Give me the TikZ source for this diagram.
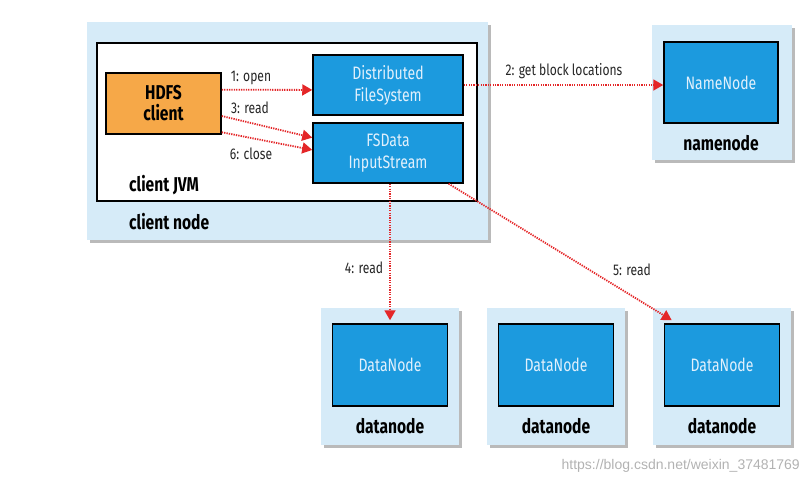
\documentclass[tikz,border=0pt]{standalone}
\usepackage{fontspec}
\setmainfont{Fira Sans}[FakeStretch=0.78]
\newfontfamily\wmfont{Liberation Sans}
\usetikzlibrary{shadows,arrows.meta,calc}
\definecolor{hostblue}{RGB}{214,235,248}
\definecolor{boxblue}{RGB}{28,154,222}
\definecolor{boxtext}{RGB}{225,240,252}
\definecolor{hdfsorange}{RGB}{246,168,72}
\definecolor{arrowred}{RGB}{228,38,40}
\begin{document}
\begin{tikzpicture}[x=1pt,y=-1pt,
  host/.style={fill=hostblue, draw=none, minimum width=#1, inner sep=0pt,
    drop shadow={shadow xshift=2.5pt, shadow yshift=-2.5pt, fill=black!45, opacity=0.6}},
  inbox/.style={fill=boxblue, draw=black, line width=1.5pt, text=boxtext,
    align=center, inner sep=0pt, font=\fontsize{18}{22}\selectfont},
  hostlabel/.style={font=\bfseries\fontsize{20}{23}\selectfont, inner sep=0pt},
  arrlabel/.style={font=\fontsize{15.5}{17}\selectfont, inner sep=0pt, text=black!85},
  flow/.style={draw=arrowred, line width=1.8pt, dash pattern=on 1.3pt off 1.1pt,
    -{Triangle[length=10pt,width=11pt]}}
]
\useasboundingbox (0,0) rectangle (809,483);

% client node
\node[host, minimum width=401pt, minimum height=218pt] (cnode) at (287.5,131) {};
\node[fill=white, draw=black, line width=1.3pt, minimum width=380pt, minimum height=158pt, inner sep=0pt] (jvm) at (287,122) {};
\node[hostlabel, anchor=west] (jvmlab) at (129,185) {client JVM};
\node[hostlabel, anchor=west] (cnlab) at (129,222) {client node};

\node[fill=hdfsorange, draw=black, line width=1.5pt, minimum width=115pt, minimum height=61pt,
  inner sep=0pt, align=center, font=\bfseries\fontsize{20}{21}\selectfont] (hdfs) at (163.5,103.5) {HDFS\\client};
\node[inbox, minimum width=150pt, minimum height=60pt] (dfs) at (388,85) {Distributed\\FileSystem};
\node[inbox, minimum width=150pt, minimum height=60pt] (fsd) at (388,153) {FSData\\InputStream};

% namenode
\node[host, minimum width=140pt, minimum height=135pt] (nnhost) at (722,92.5) {};
\node[inbox, minimum width=114pt, minimum height=81pt] (nn) at (721,82.5) {NameNode};
\node[hostlabel] (nnlab) at (721,143) {namenode};

% datanodes
\foreach \i/\x in {1/390,2/556,3/722}{
  \node[host, minimum width=138pt, minimum height=137pt] (dnhost\i) at (\x,376.5) {};
  \node[inbox, minimum width=115pt, minimum height=82pt] (dn\i) at (\x,365) {DataNode};
  \node[hostlabel] (dnlab\i) at (\x,426) {datanode};
}

% arrows
\draw[flow] ($(hdfs.north east)!0.28!(hdfs.south east)$) -- ($(dfs.north west)!0.58!(dfs.south west)$);
\draw[flow] ($(hdfs.north east)!0.70!(hdfs.south east)$) -- ($(fsd.north west)!0.25!(fsd.south west)$);
\draw[flow] ($(hdfs.north east)!0.96!(hdfs.south east)$) -- ($(fsd.north west)!0.45!(fsd.south west)$);
\draw[flow] (dfs.east) -- (dfs.east -| nn.west);
\draw[flow] (dn1.north |- fsd.south) -- ([yshift=3pt]dn1.north);
\draw[flow] ($(fsd.south west)!0.9!(fsd.south east)$) -- ([xshift=8pt,yshift=3pt]dn3.north west);

% arrow labels
\node[arrlabel] (l1) at (251,78) {1: open};
\node[arrlabel] (l3) at (250,108) {3: read};
\node[arrlabel] (l6) at (251,154) {6: close};
\node[arrlabel] (l2) at (564,71) {2: get block locations};
\node[arrlabel] (l4) at (364,268) {4: read};
\node[arrlabel] (l5) at (632,270) {5: read};

% watermark
\node[font=\wmfont\fontsize{14}{16}\selectfont, text=black!30, anchor=east, inner sep=0pt] (wm) at (800,466) {https://blog.csdn.net/weixin\_37481769};
\end{tikzpicture}
\end{document}
